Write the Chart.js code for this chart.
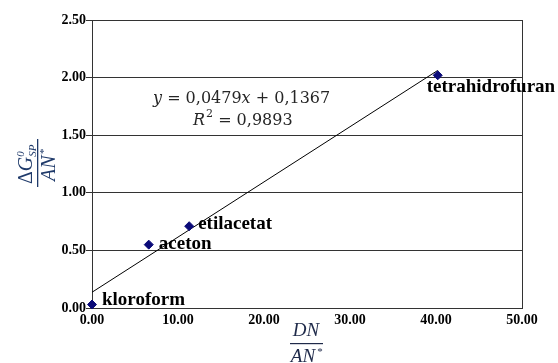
<!DOCTYPE html>
<html><head><meta charset="utf-8">
<script src="https://cdn.jsdelivr.net/npm/chart.js@4.4.1/dist/chart.umd.min.js"></script>
<style>html,body{margin:0;padding:0;background:#fff}#wrap{width:558px;height:363px}</style>
</head><body><div id="wrap"><canvas id="c" width="558" height="363"></canvas></div>
<script>
const solvents = ["kloroform", "aceton", "etilacetat", "tetrahidrofuran"];
const dnOverAn = [0.0, 6.6, 11.3, 40.2];
const dgOverAn = [0.03, 0.55, 0.71, 2.02];
const trendSlope = [0.0479];
const trendIntercept = [0.1367];
const xTicks = [0, 10, 20, 30, 40, 50];
const yTicks = [0, 0.5, 1.0, 1.5, 2.0, 2.5];

const pts = dnOverAn.map((x, i) => ({x: x, y: dgOverAn[i]}));
const xMin = Math.min(...dnOverAn), xMax = Math.max(...dnOverAn);
const trend = [xMin, xMax].map(x => ({x: x, y: trendSlope[0] * x + trendIntercept[0]}));

const serif = "'Liberation Serif', 'Times New Roman', serif";
const mathSerif = "'DejaVu Serif', serif";
const labelOffsets = [[10, 0], [10, 4], [9, 3], [-11, 17]];

const annot = {
  id: 'annot',
  afterDatasetsDraw(chart) {
    const ctx = chart.ctx, xs = chart.scales.x, ys = chart.scales.y;
    ctx.save();
    // point labels
    ctx.font = "bold 19px " + serif;
    ctx.fillStyle = "#000";
    ctx.textBaseline = "alphabetic";
    ctx.textAlign = "left";
    solvents.forEach((s, i) => {
      const px = xs.getPixelForValue(dnOverAn[i]), py = ys.getPixelForValue(dgOverAn[i]);
      ctx.fillText(s, px + labelOffsets[i][0], py + labelOffsets[i][1]);
    });
    // equation
    ctx.fillStyle = "#262626";
    const segs1 = [["y", true], [" = 0,0479", false], ["x", true], [" + 0,1367", false]];
    let x = 153;
    segs1.forEach(([t, it]) => {
      ctx.font = (it ? "italic " : "") + "16px " + mathSerif;
      ctx.fillText(t, x, 103); x += ctx.measureText(t).width;
    });
    x = 193;
    ctx.font = "italic 16px " + mathSerif; ctx.fillText("R", x, 125); x += ctx.measureText("R").width + 1;
    ctx.font = "11px " + mathSerif; ctx.fillText("2", x, 117); x += ctx.measureText("2").width;
    ctx.font = "16px " + mathSerif; ctx.fillText(" = 0,9893", x, 125);

    // x title
    ctx.fillStyle = "#1F2A4A";
    ctx.textAlign = "center";
    ctx.font = "italic 19px " + serif;
    ctx.fillText("DN", 306, 336);
    ctx.fillRect(290, 343, 33, 1.2);
    ctx.fillText("AN", 303, 362);
    ctx.font = "11px " + serif;
    ctx.fillText("*", 320, 355);

    // y title (rotated)
    ctx.translate(37, 163);
    ctx.rotate(-Math.PI / 2);
    ctx.fillStyle = "#1F3A6A";
    ctx.textAlign = "left";
    let tx = -21;
    ctx.font = "20px " + serif; ctx.fillText("Δ", tx, -5); tx += ctx.measureText("Δ").width;
    ctx.font = "italic 20px " + serif; ctx.fillText("G", tx, -5); tx += ctx.measureText("G").width;
    ctx.font = "italic 11px " + serif;
    ctx.fillText("0", tx, -13);
    ctx.fillText("SP", tx, -1);
    ctx.fillRect(-24, 0, 48, 1.3);
    ctx.font = "italic 20px " + serif;
    ctx.fillText("AN", -18, 18);
    ctx.font = "11px " + serif;
    ctx.fillText("*", 9, 10);
    ctx.restore();
  }
};

new Chart(document.getElementById('c'), {
  type: 'scatter',
  data: {
    datasets: [
      {type: 'line', data: trend, borderColor: '#000', borderWidth: 1, pointRadius: 0, fill: false, order: 2},
      {data: pts, pointStyle: 'rectRot', pointRadius: 4.5, pointHoverRadius: 4.5,
       backgroundColor: '#0A0A78', borderColor: '#0A0A78', clip: false, order: 1}
    ]
  },
  options: {
    responsive: false, animation: false,
    layout: {padding: {left: 0, top: 20, right: 36, bottom: 0}},
    plugins: {legend: {display: false}, tooltip: {enabled: false}},
    scales: {
      x: {
        type: 'linear', min: 0, max: 50,
        afterBuildTicks: s => { s.ticks = xTicks.map(v => ({value: v})); },
        afterFit: s => { s.height = 55; },
        grid: {drawTicks: false,
               color: c => (c.index === 0 || c.index === xTicks.length - 1) ? '#333' : 'rgba(0,0,0,0)',
               lineWidth: 1},
        border: {display: true, color: '#333'},
        ticks: {padding: 4, color: '#000', font: {family: serif, size: 14, weight: 'bold'},
                callback: v => Number(v).toFixed(2), maxRotation: 0}
      },
      y: {
        min: 0, max: 2.5,
        afterBuildTicks: s => { s.ticks = yTicks.map(v => ({value: v})); },
        afterFit: s => { s.width = 92; },
        grid: {color: '#333', lineWidth: 1, tickLength: 6, drawTicks: true},
        border: {display: true, color: '#333'},
        ticks: {padding: 0, color: '#000', font: {family: serif, size: 14, weight: 'bold'},
                callback: v => Number(v).toFixed(2)}
      }
    }
  },
  plugins: [annot]
});
</script></body></html>
